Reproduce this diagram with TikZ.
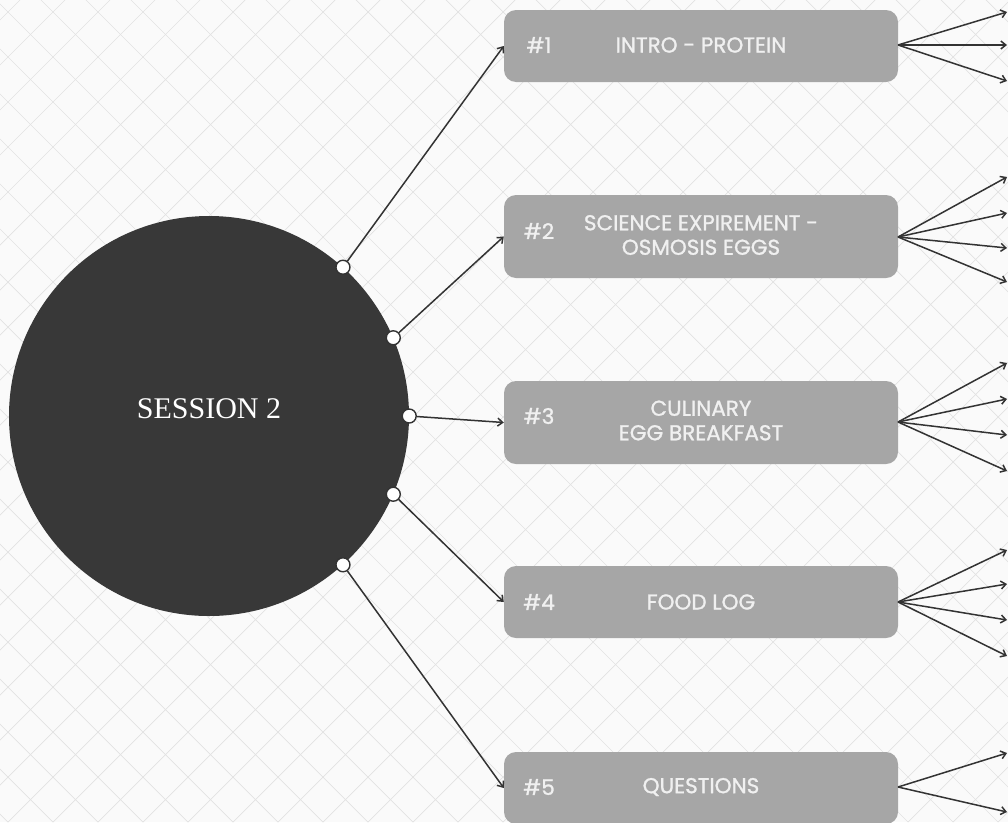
\documentclass[tikz,border=0pt]{standalone}
\usepackage{fontspec}
\setmainfont{Liberation Serif}
\newfontfamily\pop{Poppins}[FakeBold=1.2]
\usetikzlibrary{arrows.meta}
\definecolor{bgc}{HTML}{FAFAFA}
\definecolor{gridc}{HTML}{E2E2E2}
\definecolor{darkc}{HTML}{383838}
\definecolor{linec}{HTML}{333333}
\definecolor{boxc}{HTML}{A6A6A6}
\definecolor{txtc}{HTML}{F0F0F0}
\tikzset{
  topic/.style={draw=none, fill=boxc, rounded corners=12pt, minimum width=394pt, inner sep=0pt},
  lbl/.style={font=\pop\fontsize{21.5}{24.5}\selectfont, text=txtc, align=center, inner sep=0pt},
  dotc/.style={circle, draw=linec, fill=white, line width=1.4pt, minimum size=14pt, inner sep=0pt},
  conn/.style={draw=linec, line width=1.5pt},
  arr/.style={conn, -{Straight Barb[length=5pt,width=8pt,line width=1.5pt]}}
}
\begin{document}
\begin{tikzpicture}[x=1pt,y=-1pt]
\useasboundingbox (0,0) rectangle (1008,822);
\fill[bgc] (0,0) rectangle (1008,822);
\begin{scope}
\clip (0,0) rectangle (1008,822);
\foreach \k in {-18,...,41} {
  \pgfmathsetmacro{\gc}{20+45*\k}
  \draw[gridc, line width=0.7pt] (\gc,0) -- ({\gc-822},822);
}
\foreach \k in {-18,...,24} {
  \pgfmathsetmacro{\gc}{-4+45*\k}
  \draw[gridc, line width=0.7pt] (\gc,0) -- ({\gc+822},822);
}
\end{scope}

% central circle
\node[circle, fill=darkc, minimum size=400pt, inner sep=0pt] (c) at (209,416) {};
\node[text=white, font=\fontsize{30}{34}\selectfont] (ct) at (209,409) {SESSION 2};

% topic boxes
\node[topic, minimum height=72pt] (b1) at (701,46) {};
\node[topic, minimum height=83pt] (b2) at (701,236.5) {};
\node[topic, minimum height=83pt] (b3) at (701,422.5) {};
\node[topic, minimum height=72pt] (b4) at (701,602) {};
\node[topic, minimum height=72pt] (b5) at (701,788) {};

\node[lbl] (n1) at (539,45) {\#1};
\node[lbl] (t1) at (701,45) {INTRO - PROTEIN};
\node[lbl] (n2) at (539,231) {\#2};
\node[lbl] (t2) at (701,235) {SCIENCE EXPIREMENT -\\OSMOSIS EGGS};
\node[lbl] (n3) at (539,416) {\#3};
\node[lbl] (t3) at (701,420.5) {CULINARY\\EGG BREAKFAST};
\node[lbl] (n4) at (539,602) {\#4};
\node[lbl] (t4) at (701,602) {FOOD LOG};
\node[lbl] (n5) at (539,787) {\#5};
\node[lbl] (t5) at (701,787) {QUESTIONS};

% dots on circle
\coordinate (p1) at (c.48);
\coordinate (p2) at (c.23);
\coordinate (p3) at (c.0);
\coordinate (p4) at (c.-23);
\coordinate (p5) at (c.-48);
\node[dotc] (d1) at (p1) {};
\node[dotc] (d2) at (p2) {};
\node[dotc] (d3) at (p3) {};
\node[dotc] (d4) at (p4) {};
\node[dotc] (d5) at (p5) {};

\draw[arr] (d1) -- (b1.west);
\draw[arr] (d2) -- (b2.west);
\draw[arr] (d3) -- (b3.west);
\draw[arr] (d4) -- (b4.west);
\draw[arr] (d5) -- (b5.west);

% right fan-out end points
\coordinate (e11) at (1007,12);
\coordinate (e12) at (1007,45);
\coordinate (e13) at (1007,81);
\coordinate (e21) at (1007,177);
\coordinate (e22) at (1007,213);
\coordinate (e23) at (1007,248);
\coordinate (e24) at (1007,282);
\coordinate (e31) at (1007,363);
\coordinate (e32) at (1007,399);
\coordinate (e33) at (1007,435);
\coordinate (e34) at (1007,471);
\coordinate (e41) at (1007,550);
\coordinate (e42) at (1007,584);
\coordinate (e43) at (1007,620);
\coordinate (e44) at (1007,656);
\coordinate (e51) at (1007,753);
\coordinate (e52) at (1007,812);

\coordinate (o1) at (898,45);
\coordinate (o2) at (898,237);
\coordinate (o3) at (898,422);
\coordinate (o4) at (898,602);
\coordinate (o5) at (898,787);

\foreach \e in {e11,e12,e13} \draw[arr] (o1) -- (\e);
\foreach \e in {e21,e22,e23,e24} \draw[arr] (o2) -- (\e);
\foreach \e in {e31,e32,e33,e34} \draw[arr] (o3) -- (\e);
\foreach \e in {e41,e42,e43,e44} \draw[arr] (o4) -- (\e);
\foreach \e in {e51,e52} \draw[arr] (o5) -- (\e);
\end{tikzpicture}
\end{document}
